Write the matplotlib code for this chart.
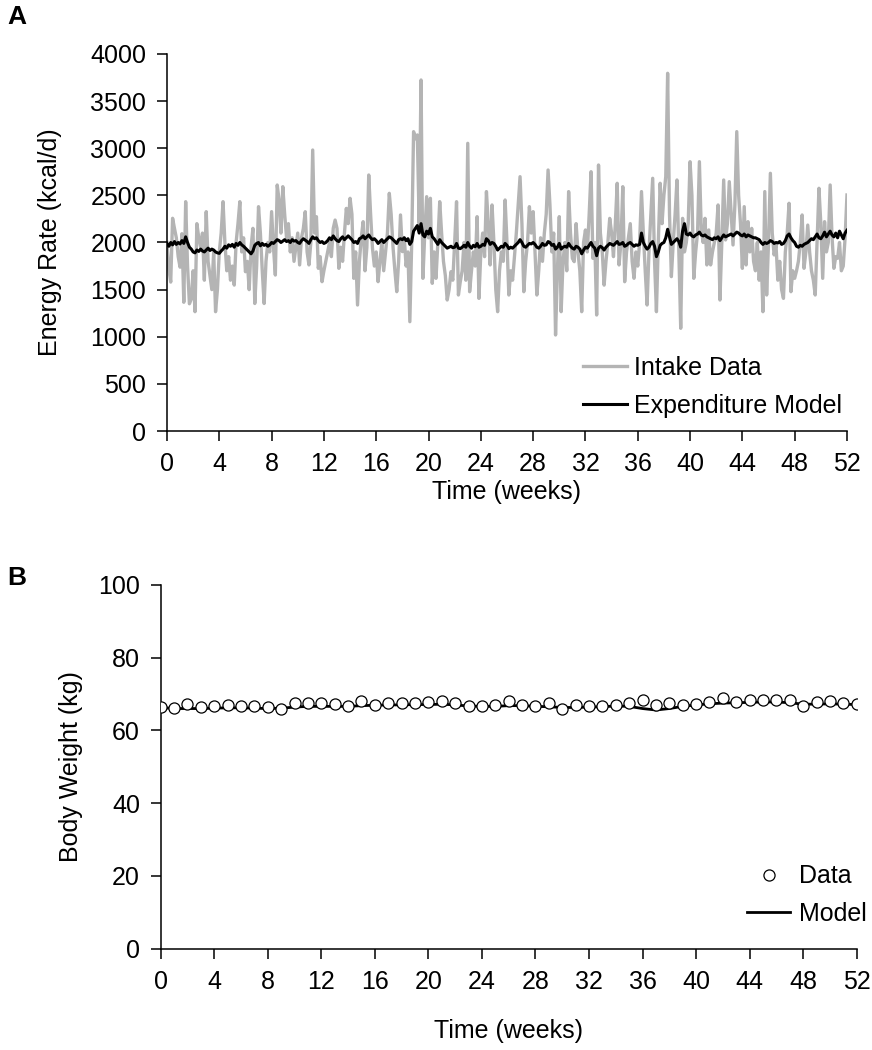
import numpy as np
import matplotlib

matplotlib.use("Agg")
import matplotlib.pyplot as plt

plt.rcParams["font.family"] = ["Liberation Sans", "DejaVu Sans"]

# daily intake (kcal/d), one row per week, last value is day 364 (week 52)
intake = [
    2000, 1720, 1580, 2257, 2150, 2050, 1850,
    1738, 2093, 1366, 2433, 1750, 1350, 1400,
    1700, 1266, 2200, 2050, 1950, 2100, 1600,
    2327, 1800, 1650, 1500, 1900, 1266, 1500,
    1900, 2100, 2433, 2000, 1700, 1850, 1600,
    1750, 1548, 2000, 2200, 2433, 1900, 2050,
    1690, 1800, 1500, 1950, 2150, 1353, 1750,
    2380, 2100, 1700, 1353, 1800, 2000, 1900,
    2327, 1950, 1655, 2610, 2450, 2100, 2592,
    2300, 2050, 2200, 1900, 2050, 1800, 1950,
    2100, 1762, 2050, 2150, 2327, 1900, 1762,
    2000, 2981, 2100, 2274, 1726, 1850, 1584,
    1700, 1800, 1900, 2000, 1850, 2150, 2238,
    2150, 1726, 1950, 1800, 2100, 2362, 2200,
    2469, 2300, 1620, 1900, 1337, 1800, 2050,
    2221, 1700, 1950, 2716, 2300, 1938, 1750,
    1900, 1584, 1800, 2000, 1700, 1900, 2100,
    2522, 2300, 1950, 1700, 1478, 1800, 2292,
    1903, 2050, 1750, 1900, 1160, 2000, 3176,
    3100, 3141, 2200, 3724, 1620, 2100, 2486,
    2050, 2469, 1567, 1900, 1620, 2000, 2433,
    2100, 1800, 1650, 1390, 1500, 1690, 1600,
    2000, 2433, 1443, 1584, 1700, 2000, 1600,
    3052, 1478, 1700, 1900, 1750, 2274, 1407,
    1900, 2100, 1850, 2540, 2200, 1762, 2398,
    2000, 1500, 1266, 1700, 1900, 1800, 2451,
    2000, 1443, 1700, 1600, 1850, 2100, 2400,
    2698, 2200, 1478, 1800, 2000, 2380, 2100,
    2327, 1900, 1443, 1700, 2050, 1800, 2100,
    2300, 2769, 2398, 1900, 2100, 1019, 1700,
    2274, 1266, 1800, 2000, 1700, 2540, 2100,
    1832, 1797, 2200, 1900, 1700, 1266, 2000,
    2133, 1900, 2300, 2751, 1832, 2000, 1231,
    2822, 2100, 1900, 1548, 1800, 2000, 2256,
    2100, 1850, 2200, 2628, 1762, 2000, 2592,
    1584, 1900, 2050, 2200, 1800, 1620, 1900,
    1750, 2000, 2540, 2100, 1700, 1337, 1900,
    2300, 2681, 1800, 1266, 2000, 2628, 2200,
    2500, 2700, 3795, 2300, 1638, 2000, 2300,
    2663, 1900, 1090, 2256, 1900, 2000, 2200,
    2857, 2500, 1620, 1900, 2100, 2857, 2133,
    2000, 2256, 1762, 2133, 1762, 1900, 2000,
    2100, 2398, 1390, 2000, 2663, 2027, 2200,
    2645, 2300, 1974, 2400, 3176, 2500, 2200,
    1726, 2380, 1762, 2221, 1900, 2150, 1800,
    1700, 2000, 1600, 1900, 1266, 2540, 1443,
    2000, 2734, 2100, 1868, 1974, 1600, 1800,
    1500, 1407, 1900, 2100, 2416, 1478, 1700,
    1620, 1700, 1800, 2000, 2292, 1726, 1900,
    2185, 1900, 1700, 1600, 1443, 2000, 2575,
    2200, 1620, 2221, 1900, 2000, 2610, 2062,
    1726, 1850, 1832, 2000, 1700, 1750, 2050,
    2504,
]

# daily modelled expenditure (kcal/d)
expenditure = [
    1990, 1960, 2000, 1975, 2010, 1980, 2000,
    1985, 2020, 1990, 2060, 2000, 1950, 1930,
    1900, 1890, 1920, 1905, 1930, 1910, 1900,
    1920, 1940, 1915, 1930, 1920, 1900, 1890,
    1885, 1910, 1930, 1960, 1940, 1975, 1960,
    1980, 1950, 1990, 1970, 2000, 1975, 1960,
    1940, 1920, 1900, 1880, 1910, 1970, 1990,
    2000, 1965, 1990, 1970, 1980, 1960, 1975,
    2000, 1990, 2010, 2030, 2020, 2000, 2015,
    2030, 2010, 2020, 2000, 2030, 2015, 2020,
    2000, 1990, 2020, 2040, 2025, 2010, 1990,
    2030, 2060, 2040, 2050, 2020, 2000, 2010,
    1990, 2000, 2020, 2050, 2030, 2070, 2040,
    2020, 2010, 2040, 2060, 2030, 2050, 2070,
    2050, 2030, 2000, 2010, 1990, 2040, 2050,
    2070, 2040, 2060, 2080, 2050, 2030, 2040,
    2020, 1990, 2010, 2030, 2000, 2020, 2040,
    2060, 2050, 2030, 2010, 1990, 2030, 2040,
    2030, 2050, 2020, 2040, 1980, 2010, 2120,
    2150, 2180, 2100, 2200, 2080, 2060, 2120,
    2090, 2150, 2060, 2040, 2010, 1980, 2030,
    2000, 1980, 1960, 1940, 1950, 1960, 1945,
    1950, 1990, 1940, 1935, 1950, 1970, 1950,
    2000, 1960, 1940, 1970, 1955, 1990, 1950,
    1960, 1980, 1970, 2040, 2020, 1980, 2000,
    1990, 1960, 1920, 1940, 1960, 1950, 1990,
    1970, 1935, 1950, 1940, 1960, 1980, 2000,
    2030, 2000, 1960, 1950, 1970, 1990, 1985,
    2000, 1980, 1950, 1940, 1960, 1990, 1970,
    1975, 2010, 2000, 1970, 1980, 1930, 1950,
    1990, 1930, 1950, 1960, 1950, 1990, 1960,
    1940, 1930, 1960, 1950, 1930, 1880, 1920,
    1950, 1940, 1970, 2000, 1960, 1940, 1860,
    1940, 1960, 1945, 1920, 1950, 1970, 1990,
    1980, 1970, 1990, 2010, 1980, 1985, 2000,
    1960, 1970, 1990, 2000, 1980, 1960, 1975,
    1970, 1980, 2100, 2000, 1960, 1930, 1950,
    1990, 2010, 1960, 1850, 1900, 1970, 1990,
    2000, 2050, 2140, 2060, 1980, 2000, 2020,
    2040, 2010, 1950, 2120, 2200, 2090, 2080,
    2100, 2070, 2060, 2080, 2090, 2110, 2080,
    2070, 2080, 2060, 2050, 2040, 2030, 2050,
    2040, 2060, 2020, 2050, 2080, 2060, 2070,
    2080, 2090, 2070, 2090, 2110, 2100, 2080,
    2070, 2090, 2060, 2080, 2070, 2060, 2050,
    2050, 2040, 2030, 2000, 1980, 2000, 1990,
    2000, 2020, 2010, 1990, 2000, 1995, 2010,
    1980, 1990, 2020, 2070, 2090, 2050, 2020,
    2000, 1960, 1950, 1970, 1960, 1980, 1990,
    2000, 2020, 2040, 2030, 2060, 2090, 2050,
    2040, 2070, 2110, 2060, 2090, 2120, 2080,
    2060, 2100, 2050, 2120, 2080, 2040, 2100,
    2130,
]

# weekly body weight (kg), weeks 0..52
weight_data = [
    66.5, 66.1, 67.3, 66.3, 66.8, 66.9, 66.8, 66.7, 66.3, 66.0,
    67.5, 67.4, 67.4, 67.3, 66.6, 68.1, 67.1, 67.5, 67.6, 67.6,
    67.7, 68.0, 67.6, 66.8, 66.7, 67.1, 68.1, 67.0, 66.8, 67.5,
    66.0, 67.1, 66.7, 66.7, 67.1, 67.6, 68.4, 67.0, 67.5, 67.0,
    67.2, 67.7, 68.8, 67.9, 68.3, 68.3, 68.3, 68.4, 66.7, 67.7,
    68.0, 67.6, 67.2,
]
weight_model = [
    66.3, 66.0, 66.0, 66.0, 66.1, 66.2, 66.2, 66.1, 66.0, 66.1,
    66.4, 66.6, 66.6, 66.6, 66.6, 66.8, 66.9, 67.0, 67.0, 67.1,
    67.1, 67.2, 67.0, 66.7, 66.6, 66.6, 66.8, 66.8, 66.6, 66.5,
    66.3, 66.3, 66.4, 66.5, 66.7, 66.6, 66.0, 65.6, 66.0, 66.6,
    67.0, 67.3, 67.5, 67.6, 67.7, 67.8, 67.8, 67.6, 67.2, 67.2,
    67.3, 67.2, 67.1,
]

days = np.arange(len(intake)) / 7.0
weeks = np.arange(len(weight_data))
week_ticks = np.arange(0, 53, 4)

FS = 18

fig = plt.figure(figsize=(8.72, 10.5), dpi=100)
ax_a = fig.add_axes([0.1915, 0.5895, 0.7798, 0.3591])
ax_b = fig.add_axes([0.1843, 0.0965, 0.7981, 0.3465])

ax_a.plot(days, intake, color="#b4b4b4", lw=2.4, label="Intake Data")
ax_a.plot(days, expenditure, color="black", lw=2.2, label="Expenditure Model")
ax_a.set_xlim(0, 52)
ax_a.set_ylim(0, 4000)
ax_a.set_yticks(np.arange(0, 4001, 500))
ax_a.set_ylabel("Energy Rate (kcal/d)", fontsize=FS, labelpad=20)
ax_a.set_xlabel("Time (weeks)", fontsize=FS, labelpad=3)
ax_a.legend(loc="upper left", bbox_to_anchor=(0.612, 0.2), frameon=False,
            fontsize=FS, handlelength=1.75, handletextpad=0.3,
            labelspacing=0.58, borderpad=0, borderaxespad=0)

ax_b.plot(weeks, weight_model, color="black", lw=2, label="Model", zorder=2)
ax_b.plot(weeks, weight_data, ls="none", marker="o", ms=8, mfc="white",
          mec="black", mew=0.9, label="Data", zorder=3)
ax_b.set_xlim(0, 52)
ax_b.set_ylim(0, 100)
ax_b.set_yticks(np.arange(0, 101, 20))
ax_b.set_ylabel("Body Weight (kg)", fontsize=FS, labelpad=11)
ax_b.set_xlabel("Time (weeks)", fontsize=FS, labelpad=18)
handles, labels = ax_b.get_legend_handles_labels()
ax_b.legend(handles[::-1], labels[::-1], loc="upper left",
            bbox_to_anchor=(0.842, 0.232), frameon=False, fontsize=FS,
            handlelength=1.75, handletextpad=0.35, labelspacing=0.55,
            borderpad=0, borderaxespad=0, numpoints=1)

for ax in (ax_a, ax_b):
    ax.set_xticks(week_ticks)
    ax.spines[["top", "right"]].set_visible(False)
    for side in ("left", "bottom"):
        ax.spines[side].set_linewidth(1.1)
    ax.tick_params(axis="both", labelsize=FS, length=7, width=1.1, pad=8)

fig.text(0.008, 0.995, "A", fontsize=FS + 1, fontweight="bold", va="top")
fig.text(0.008, 0.461, "B", fontsize=FS + 1, fontweight="bold", va="top")

fig.savefig("out.png", dpi=100)
